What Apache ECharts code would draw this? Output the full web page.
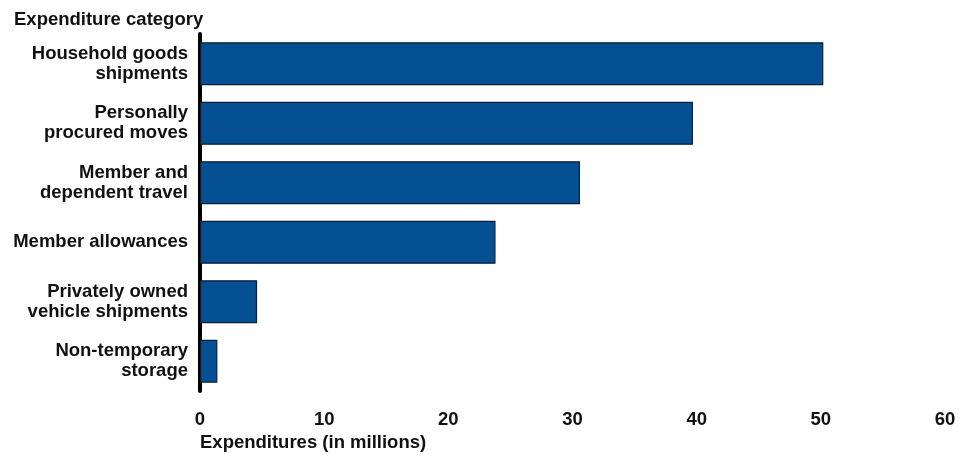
<!DOCTYPE html>
<html>
<head>
<meta charset="utf-8">
<script src="https://cdn.jsdelivr.net/npm/echarts@6/dist/echarts.min.js"></script>
<style>
  html, body { margin: 0; padding: 0; background: #fff; }
  #chart { width: 974px; height: 457px; }
</style>
</head>
<body>
<div id="chart"></div>
<script>
  // categories listed bottom to top, as the category axis draws them
  const categories = [
    'Non-temporary\nstorage',
    'Privately owned\nvehicle shipments',
    'Member allowances',
    'Member and\ndependent travel',
    'Personally\nprocured moves',
    'Household goods\nshipments'
  ]
  const expenditures = [1.4, 4.6, 23.8, 30.6, 39.7, 50.2]
  const xTicks = [0, 10, 20, 30, 40, 50, 60]

  const fontFamily = '"Liberation Sans", Arial, sans-serif'
  const fs = 18.5

  const chart = echarts.init(document.getElementById('chart'))
  chart.setOption({
    animation: false,
    textStyle: { fontFamily: fontFamily },
    title: {
      text: 'Expenditure category',
      left: 9,
      top: 5,
      textStyle: { fontSize: fs, fontWeight: 'bold', color: '#111', fontFamily: fontFamily }
    },
    grid: {
      left: 200,
      right: 29,
      top: 34,
      height: 357
    },
    xAxis: {
      type: 'value',
      min: xTicks[0],
      max: xTicks[xTicks.length - 1],
      interval: 10,
      name: 'Expenditures (in millions)',
      nameLocation: 'start',
      nameGap: 0,
      nameTextStyle: {
        fontSize: fs, fontWeight: 'bold', color: '#111',
        align: 'left', verticalAlign: 'top', padding: [42, 0, 0, 0]
      },
      axisLine: { show: false },
      axisTick: { show: false },
      splitLine: { show: false },
      axisLabel: { fontSize: fs, fontWeight: 'bold', color: '#111', margin: 19 }
    },
    yAxis: {
      type: 'category',
      data: categories,
      axisLine: { show: true, lineStyle: { color: '#000', width: 4 } },
      axisTick: { show: false },
      splitLine: { show: false },
      axisLabel: {
        fontSize: fs, fontWeight: 'bold', color: '#111',
        lineHeight: 20, align: 'right', margin: 12
      }
    },
    series: [{
      type: 'bar',
      data: expenditures,
      barWidth: 43,
      itemStyle: {
        color: '#054f93',
        borderColor: '#0d1f33',
        borderWidth: 1.2
      }
    }]
  })
</script>
</body>
</html>
